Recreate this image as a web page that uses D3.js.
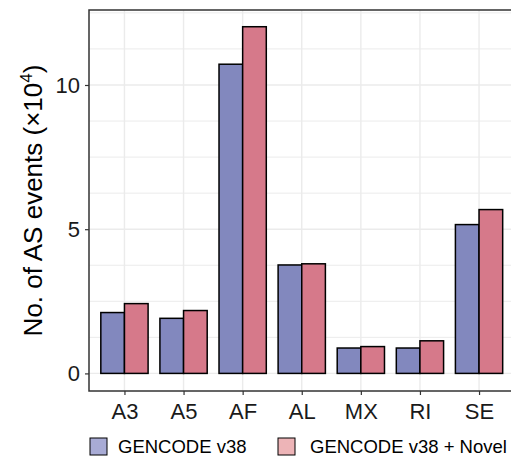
<!DOCTYPE html>
<html>
<head>
<meta charset="utf-8">
<script src="https://cdn.jsdelivr.net/npm/d3@7"></script>
<style>
  body { margin: 0; background: #fff; }
  text { font-family: "Liberation Sans", Arial, sans-serif; }
</style>
</head>
<body>
<script>
const categories = ["A3", "A5", "AF", "AL", "MX", "RI", "SE"];
const seriesNames = ["GENCODE v38", "GENCODE v38 + Novel"];
const gencode = [2.11, 1.91, 10.72, 3.76, 0.88, 0.88, 5.16];
const gencodeNovel = [2.42, 2.18, 12.02, 3.80, 0.93, 1.13, 5.68];
const yTickValues = [0, 5, 10];
const yGridValues = [0, 1.25, 2.5, 3.75, 5, 6.25, 7.5, 8.75, 10, 11.25, 12.5];

function main(){
    const canvasWidth = 511;
    const canvasHeight = 458;
    const panel = {left: 89, top: 10, right: 514.5, bottom: 391};

    const barFill = ["#8288BE", "#D6798A"];
    const keyFill = ["#A8ABD5", "#EDB4B7"];

    const svg = d3.select("body").append("svg")
        .attr("width", canvasWidth)
        .attr("height", canvasHeight);

    const xScale = d3.scalePoint()
        .domain(categories)
        .range([panel.left, panel.right])
        .padding(0.6);
    const step = xScale.step();
    const barW = step * 0.8 / 2;

    const yScale = d3.scaleLinear()
        .domain([-0.61, 12.6])
        .range([panel.bottom, panel.top]);

    // grid
    const grid = svg.append("g");
    grid.selectAll("line.h")
        .data(yGridValues)
        .enter()
        .append("line")
        .attr("x1", panel.left)
        .attr("x2", panel.right)
        .attr("y1", d => yScale(d))
        .attr("y2", d => yScale(d))
        .attr("stroke", "#EBEBEB")
        .attr("stroke-width", d => d % 5 === 0 ? 1.4 : 1);
    grid.selectAll("line.v")
        .data(categories)
        .enter()
        .append("line")
        .attr("x1", d => xScale(d))
        .attr("x2", d => xScale(d))
        .attr("y1", panel.top)
        .attr("y2", panel.bottom)
        .attr("stroke", "#EBEBEB")
        .attr("stroke-width", 1.4);

    // bars
    const rows = categories.map((c, i) => ({cat: c, vals: [gencode[i], gencodeNovel[i]]}));
    const barG = svg.append("g");
    rows.forEach(r => {
        r.vals.forEach((v, j) => {
            barG.append("rect")
                .attr("x", xScale(r.cat) - barW + j * barW)
                .attr("y", yScale(v))
                .attr("width", barW)
                .attr("height", yScale(0) - yScale(v))
                .attr("fill", barFill[j])
                .attr("stroke", "#000")
                .attr("stroke-width", 1.5);
        });
    });

    // panel border
    svg.append("rect")
        .attr("x", panel.left)
        .attr("y", panel.top)
        .attr("width", panel.right - panel.left)
        .attr("height", panel.bottom - panel.top)
        .attr("fill", "none")
        .attr("stroke", "#333")
        .attr("stroke-width", 1.5);

    // y axis
    const yAxis = svg.append("g")
        .attr("transform", "translate(" + panel.left + ",0)")
        .call(d3.axisLeft(yScale).tickValues(yTickValues).tickSize(4).tickPadding(5));
    yAxis.select(".domain").remove();
    yAxis.selectAll(".tick line").attr("stroke", "#333").attr("stroke-width", 1.2);
    yAxis.selectAll(".tick text")
        .attr("font-size", "22px")
        .attr("font-family", "Liberation Sans, Arial, sans-serif")
        .attr("fill", "#1a1a1a");

    // x axis
    const xAxis = svg.append("g")
        .attr("transform", "translate(0," + panel.bottom + ")")
        .call(d3.axisBottom(xScale).tickSize(4).tickPadding(8));
    xAxis.select(".domain").remove();
    xAxis.selectAll(".tick line").attr("stroke", "#333").attr("stroke-width", 1.2);
    xAxis.selectAll(".tick text")
        .attr("font-size", "22px")
        .attr("font-family", "Liberation Sans, Arial, sans-serif")
        .attr("fill", "#1a1a1a");

    // y title
    const title = svg.append("text")
        .attr("transform", "translate(42," + ((panel.top + panel.bottom) / 2) + ") rotate(-90)")
        .attr("text-anchor", "middle")
        .attr("font-size", "26px")
        .attr("fill", "#000");
    title.append("tspan").text("No. of AS events (\u00D710");
    title.append("tspan").attr("font-size", "17px").attr("dy", "-10").text("4");
    title.append("tspan").attr("dy", "10").text(")");

    // legend
    const legendX = [90, 278];
    const legendTextX = [118, 310];
    const legend = svg.append("g");
    seriesNames.forEach((name, j) => {
        legend.append("rect")
            .attr("x", legendX[j])
            .attr("y", 438)
            .attr("width", 17)
            .attr("height", 17)
            .attr("fill", keyFill[j])
            .attr("stroke", "#000")
            .attr("stroke-width", 1);
        legend.append("text")
            .attr("x", legendTextX[j])
            .attr("y", 453)
            .attr("font-size", "18.5px")
            .attr("fill", "#000")
            .text(name);
    });
}
main();
</script>
</body>
</html>
